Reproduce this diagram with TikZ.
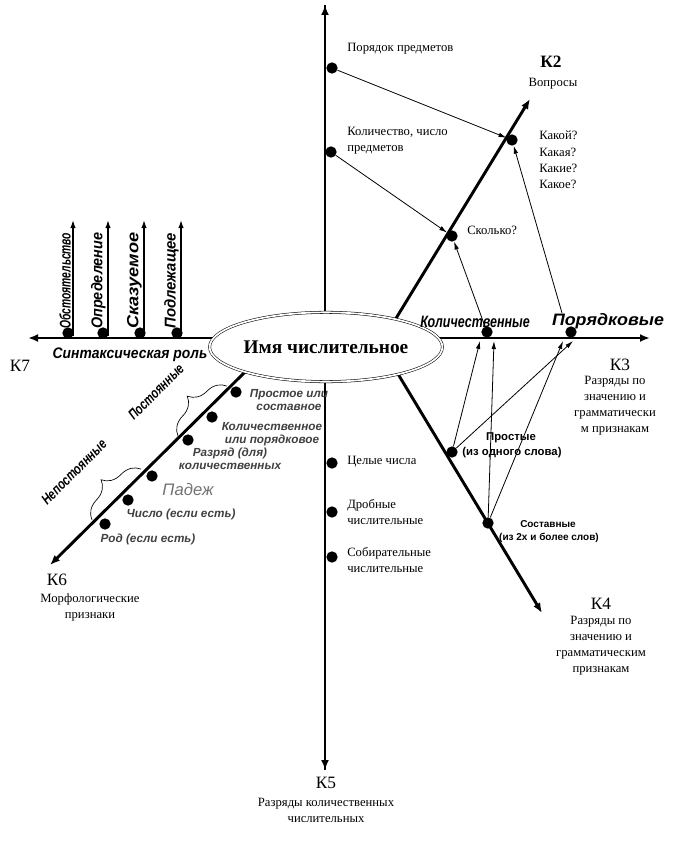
\documentclass[tikz,border=0pt]{standalone}
\usepackage{fontspec}
\setmainfont{Liberation Serif}
\setsansfont{Liberation Sans}
\usetikzlibrary{arrows.meta,decorations.pathreplacing,shapes.geometric}
\begin{document}
\begin{tikzpicture}[x=0.75pt,y=-0.75pt,
  axis/.style={line width=2.2pt},
  axtip/.style={-{Latex[length=7.5pt,width=6pt]}},
  thinarrow/.style={line width=0.6pt,-{Latex[length=6pt,width=3.4pt]}},
  synarrow/.style={line width=1pt,-{Latex[length=6pt,width=4pt]}},
  dot/.style={circle,fill=black,inner sep=0pt,minimum size=8.5pt},
  lbl/.style={font=\fontsize{9.5}{11.5}\selectfont,inner sep=0pt},
  qlbl/.style={font=\fontsize{9.5}{12.2}\selectfont,inner sep=0pt,align=left},
  blk/.style={font=\fontsize{9.5}{12}\selectfont,inner sep=0pt,align=center},
  klbl/.style={font=\fontsize{13}{15}\selectfont,inner sep=0pt},
  wart/.style={inner sep=0pt},
  shd/.style={font=\sffamily\bfseries\itshape\fontsize{8.8}{10}\selectfont,inner sep=0pt,align=center,text=black!75},
  sbold/.style={font=\sffamily\bfseries\fontsize{8.5}{10}\selectfont,inner sep=0pt},
  brc/.style={decorate,decoration={brace,amplitude=16pt},line width=0.5pt},
]
\useasboundingbox (0,0) rectangle (676,845);

% axis end points
\coordinate (vt) at (325,5);
\coordinate (vb) at (325,770);
\coordinate (l0) at (222,338);
\coordinate (lt) at (28,338);
\coordinate (r0) at (430,338);
\coordinate (rt) at (650,338);
\coordinate (ne0) at (395,320);
\coordinate (net) at (530,99);
\coordinate (se0) at (395,369);
\coordinate (set) at (542,613);
\coordinate (sw0) at (246,371);
\coordinate (swt) at (50,565);

\draw[axis,axtip] (vb) -- (vt);
\draw[axis,axtip] (vt) -- (vb);
\draw[axis,axtip] (l0) -- (lt);
\draw[axis,axtip] (r0) -- (rt);
\draw[axis,axtip] (ne0) -- (net);
\draw[axis,axtip] (se0) -- (set);
\draw[axis,axtip] (sw0) -- (swt);

% central ellipse
\node[ellipse,draw,double,double distance=1.3pt,fill=white,minimum width=163pt,minimum height=52pt,inner sep=0pt,
  font=\fontsize{14.5}{16}\selectfont\bfseries] (c) at (326,347) {Имя числительное};

% dots
\node[dot] (dp1) at (332,68) {};
\node[dot] (dp2) at (331,152) {};
\node[dot] (dq) at (512,140) {};
\node[dot] (dsk) at (452,236) {};
\node[dot] (dkol) at (487,332) {};
\node[dot] (dpor) at (571,332) {};
\node[dot] (dpr) at (452,452) {};
\node[dot] (dsos) at (488,523) {};
\node[dot] (dv1) at (332,463) {};
\node[dot] (dv2) at (332,512) {};
\node[dot] (dv3) at (332,557) {};
\node[dot] (m1) at (236,392) {};
\node[dot] (m2) at (212,417) {};
\node[dot] (m3) at (188,440) {};
\node[dot] (m4) at (152,476) {};
\node[dot] (m5) at (128,500) {};
\node[dot] (m6) at (105,524) {};
\node[dot] (s1) at (68,333) {};
\node[dot] (s2) at (103,333) {};
\node[dot] (s3) at (140,333) {};
\node[dot] (s4) at (177,333) {};

% top texts
\node[lbl,anchor=west] (tpor) at (347,49) {Порядок предметов};
\node[qlbl,anchor=west] (tkol) at (347,141) {Количество, число\\предметов};
\node[klbl,font=\fontsize{13}{15}\selectfont\bfseries] (k2) at (551,62) {К2};
\node[lbl] (k2t) at (553,84) {Вопросы};
\node[qlbl,anchor=west] (tq) at (539,160) {Какой?\\Какая?\\Какие?\\Какое?};
\node[lbl,anchor=west] (tsk) at (467,230) {Сколько?};

% horizontal right labels
\node[wart] (lkol) at (475,322) {\resizebox{82pt}{8.5pt}{\sffamily\bfseries\itshape Количественные}};
\node[wart] (lpor) at (608,321) {\resizebox{84pt}{9pt}{\sffamily\bfseries\itshape Порядковые}};
\node[klbl] (k3) at (620,365) {К3};
\node[blk] (k3t) at (615,406) {Разряды по\\значению и\\грамматически\\м признакам};

% right lower labels
\node[sbold] (lpr1) at (511,438) {Простые};
\node[sbold] (lpr2) at (512,453) {(из одного слова)};
\node[sbold,font=\sffamily\bfseries\fontsize{7.5}{9}\selectfont] (lso1) at (548,524) {Составные};
\node[sbold,font=\sffamily\bfseries\fontsize{7.5}{9}\selectfont] (lso2) at (549,538) {(из 2х и более слов)};
\node[klbl] (k4) at (601,604) {К4};
\node[blk] (k4t) at (601,646) {Разряды по\\значению и\\грамматическим\\признакам};

% lower vertical labels
\node[lbl,anchor=west] (tv1) at (347,462) {Целые числа};
\node[qlbl,anchor=west] (tv2) at (347,512) {Дробные\\числительные};
\node[qlbl,anchor=west] (tv3) at (347,560) {Собирательные\\числительные};
\node[klbl] (k5) at (326,783) {К5};
\node[blk] (k5t) at (326,810) {Разряды количественных\\числительных};

% left part
\node[klbl] (k7) at (20,366) {К7};
\node[wart] (lsyn) at (130,355) {\resizebox{116pt}{8pt}{\sffamily\bfseries\itshape Синтаксическая роль}};
\coordinate (a1b) at (73,336); \coordinate (a1t) at (73,220);
\coordinate (a2b) at (108,336); \coordinate (a2t) at (108,220);
\coordinate (a3b) at (144,336); \coordinate (a3t) at (144,220);
\coordinate (a4b) at (181,336); \coordinate (a4t) at (181,220);
\draw[synarrow] (a1b) -- (a1t);
\draw[synarrow] (a2b) -- (a2t);
\draw[synarrow] (a3b) -- (a3t);
\draw[synarrow] (a4b) -- (a4t);
\node[wart,rotate=90,anchor=south west] (w1) at (71,329) {\resizebox{72pt}{8.5pt}{\sffamily\bfseries\itshape Обстоятельство}};
\node[wart,rotate=90,anchor=south west] (w2) at (106,329) {\resizebox{72pt}{8.5pt}{\sffamily\bfseries\itshape Определение}};
\node[wart,rotate=90,anchor=south west] (w3) at (142,329) {\resizebox{72pt}{8.5pt}{\sffamily\bfseries\itshape Сказуемое}};
\node[wart,rotate=90,anchor=south west] (w4) at (179,329) {\resizebox{72pt}{8.5pt}{\sffamily\bfseries\itshape Подлежащее}};

% morphological
\node[klbl] (k6) at (57,580) {К6};
\node[blk] (k6t) at (90,607) {Морфологические\\признаки};
\node[wart,rotate=45] (lpost) at (156,392) {\resizebox{54pt}{7.5pt}{\sffamily\bfseries\itshape Постоянные}};
\node[wart,rotate=45] (lnep) at (74,472) {\resizebox{64pt}{7.5pt}{\sffamily\bfseries\itshape Непостоянные}};
\coordinate (b1a) at (178,436);
\coordinate (b1b) at (227,386);
\coordinate (b2a) at (92,520);
\coordinate (b2b) at (141,469);
\draw[brc] (b1a) -- (b1b);
\draw[brc] (b2a) -- (b2b);
\node[shd] (mt1) at (289,400) {Простое или\\составное};
\node[shd] (mt2) at (272,434) {Количественное\\или порядковое};
\node[shd] (mt3) at (230,459) {Разряд (для)\\количественных};
\node[shd,font=\sffamily\itshape\fontsize{12.5}{14}\selectfont,text=black!55] (mt4) at (188,490) {Падеж};
\node[shd] (mt5) at (181,514) {Число (если есть)};
\node[shd] (mt6) at (148,539) {Род (если есть)};

% thin arrows
\coordinate (ps) at (562,313);
\coordinate (h1) at (480,341);
\coordinate (h2) at (494,341);
\coordinate (h3) at (563,341);
\coordinate (h4) at (573,341);
\draw[thinarrow] (dp1) -- (dq);
\draw[thinarrow] (dp2) -- (dsk);
\draw[thinarrow] (dkol) -- (dsk);
\draw[thinarrow] (ps) -- (dq);
\draw[thinarrow] (dpr) -- (h1);
\draw[thinarrow] (dsos) -- (h2);
\draw[thinarrow] (dpr) -- (h4);
\draw[thinarrow] (dsos) -- (h3);
\end{tikzpicture}
\end{document}
